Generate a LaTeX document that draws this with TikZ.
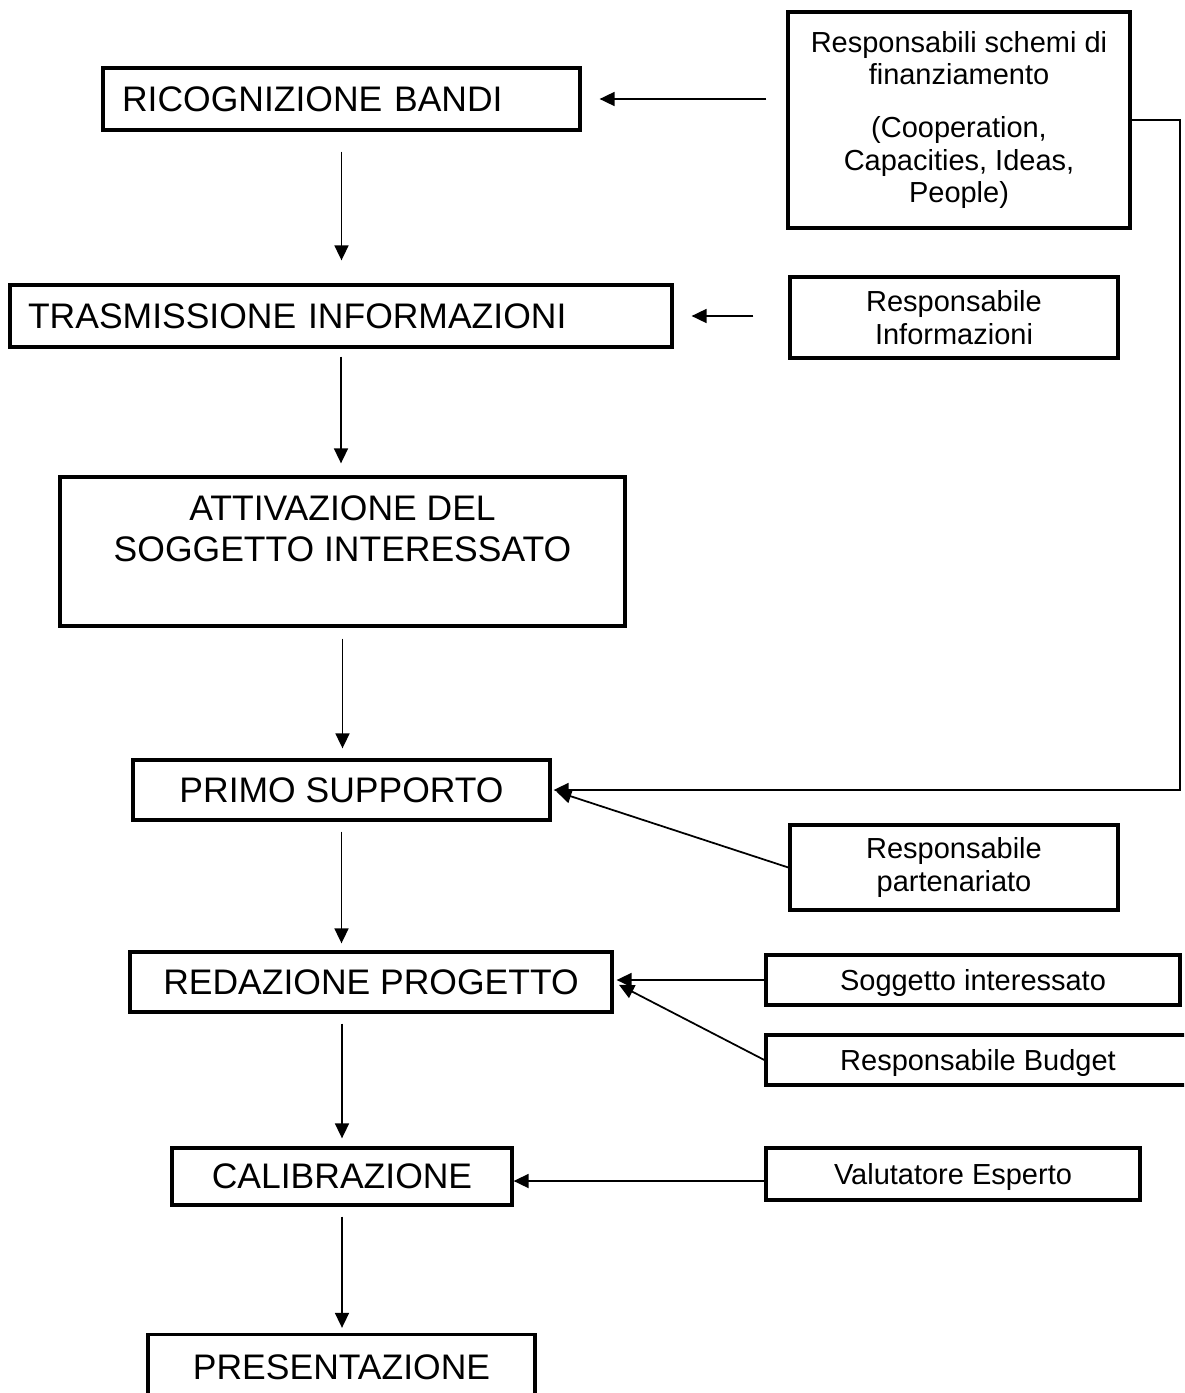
\documentclass[tikz,border=0pt]{standalone}
\usepackage{fontspec}
\setmainfont{Liberation Sans}
\usetikzlibrary{shapes.geometric, arrows.meta}
\tikzstyle{arrow} = [line width=1pt,-{Triangle[length=0.3cm,width=0.28cm]}]
\tikzstyle{stepbox} = [draw, line width=1.9pt, font=\fontsize{20.2}{23}\selectfont, inner sep=0pt]
\tikzstyle{infobox} = [draw, line width=1.9pt, align=center, font=\fontsize{16.5}{18.5}\selectfont, inner sep=0pt]

\begin{document}
\begin{tikzpicture}[x=0.02cm, y=-0.02cm]
\useasboundingbox (0,0) rectangle (1184,1393);
\clip (0,0) rectangle (1184,1393);

\node (ricognizione) [stepbox, align=left, text width=8.78cm, inner xsep=0.38cm, minimum height=1.24cm] at (341.5,99) {RICOGNIZIONE BANDI};
\node (trasmissione) [stepbox, align=left, text width=12.52cm, inner xsep=0.36cm, minimum height=1.24cm] at (341,316) {TRASMISSIONE INFORMAZIONI};
\node (attivazione) [stepbox, minimum width=11.3cm, minimum height=2.98cm] at (342.5,551.5) {};
\node (attivtext) [font=\fontsize{20.2}{23}\selectfont, align=center, inner sep=0pt, anchor=north] at ([yshift=-0.41cm]attivazione.north) {ATTIVAZIONE DEL\\SOGGETTO INTERESSATO};
\node (primo) [stepbox, minimum width=8.34cm, minimum height=1.2cm] at (341.5,790) {PRIMO SUPPORTO};
\node (redazione) [stepbox, minimum width=9.64cm, minimum height=1.2cm] at (371,982) {REDAZIONE PROGETTO};
\node (calibrazione) [stepbox, minimum width=6.8cm, minimum height=1.14cm] at (342,1176.5) {CALIBRAZIONE};
\node (presentazione) [stepbox, minimum width=7.74cm, minimum height=1.3cm] at (341.5,1367) {PRESENTAZIONE};

\node (schemi) [infobox, minimum width=6.84cm, minimum height=4.32cm] at (959,120) {Responsabili schemi di\\finanziamento\\[0.4cm](Cooperation,\\Capacities, Ideas,\\People)};
\node (informazioni) [infobox, minimum width=6.56cm, minimum height=1.62cm] at (954,317.5) {Responsabile\\Informazioni};
\node (partenariato) [infobox, minimum width=6.56cm, minimum height=1.7cm] at (954,867.5) {Responsabile\\partenariato};
\node (soggetto) [infobox, text depth=0pt, minimum width=8.28cm, minimum height=1cm] at (973,980) {Soggetto interessato};
\node (budget) [infobox, text depth=0pt, minimum width=8.48cm, minimum height=1cm] at (978,1060) {Responsabile Budget};
\node (valutatore) [infobox, text depth=0pt, minimum width=7.48cm, minimum height=1.04cm] at (953,1174) {Valutatore Esperto};

\draw [arrow, shorten <=0.4cm, shorten >=0.46cm] (ricognizione.south) -- (ricognizione.south |- trasmissione.north);
\draw [arrow, shorten <=0.16cm, shorten >=0.24cm] (trasmissione.south) -- (trasmissione.south |- attivazione.north);
\draw [arrow, shorten <=0.22cm, shorten >=0.2cm] (attivazione.south) -- (attivazione.south |- primo.north);
\draw [arrow, shorten <=0.2cm, shorten >=0.14cm] (primo.south) -- (primo.south |- redazione.north);
\draw [arrow, shorten <=0.2cm, shorten >=0.16cm] (calibrazione.north |- redazione.south) -- (calibrazione.north);
\draw [arrow, shorten <=0.2cm, shorten >=0.1cm] (calibrazione.south) -- (calibrazione.south |- presentazione.north);

\draw [arrow, shorten <=0.4cm, shorten >=0.36cm] (schemi.west |- ricognizione.east) -- (ricognizione.east);
\draw [arrow, shorten <=0.7cm, shorten >=0.36cm] (informazioni.west |- trasmissione.east) -- (trasmissione.east);
\draw [arrow, shorten >=0.04cm] (schemi.east) -- ++(48,0) |- (primo.east);
\draw [arrow, shorten >=0.1cm] (partenariato.west) -- (primo.east);
\draw [arrow, shorten >=0.06cm] (soggetto.west) -- (soggetto.west -| redazione.east);
\draw [arrow, shorten >=0.12cm] (budget.west) -- (redazione.east);
\draw [arrow] ([yshift=-0.14cm]valutatore.west) -- ([yshift=-0.14cm]valutatore.west -| calibrazione.east);
\end{tikzpicture}
\end{document}
